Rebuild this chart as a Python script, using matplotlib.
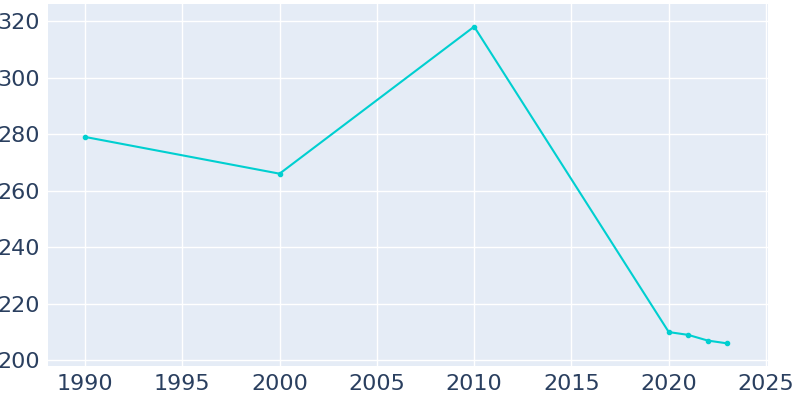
import matplotlib
matplotlib.use("Agg")
import matplotlib.pyplot as plt

years = [1990, 2000, 2010, 2020, 2021, 2022, 2023]
population = [279, 266, 318, 210, 209, 207, 206]

fig = plt.figure(figsize=(8, 4), dpi=100)
ax = fig.add_axes([0.06, 0.085, 0.90, 0.905])
ax.set_facecolor("#e5ecf6")
for s in ax.spines.values():
    s.set_visible(False)
ax.grid(True, color="white", linewidth=1)
ax.set_axisbelow(True)

ax.plot(years, population, color="#00cfd0", linewidth=1.5, marker="o", markersize=3)

ax.set_xlim(1988.1, 2025.1)
ax.set_ylim(198, 326)
ax.set_xticks(range(1990, 2026, 5))
ax.set_yticks(range(200, 321, 20))
ax.tick_params(length=0, labelsize=16, labelcolor="#2a3f5f", pad=6)

plt.savefig("out.png")
